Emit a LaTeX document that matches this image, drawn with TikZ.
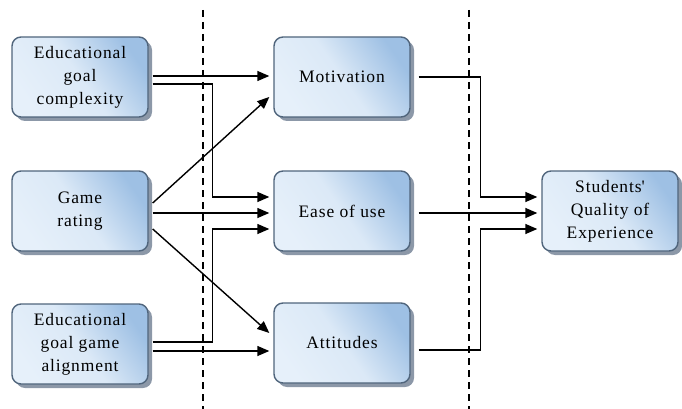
\documentclass[tikz,border=0pt]{standalone}
\usepackage{fontspec}
\setmainfont{Liberation Serif}
\newfontfamily\boxfont{Liberation Serif}[LetterSpace=5]
\usetikzlibrary{arrows.meta,calc,shadows}
\definecolor{boxedge}{HTML}{50657C}
\definecolor{boxlight}{HTML}{E6F0FA}
\definecolor{boxdark}{HTML}{9EC0E4}
\definecolor{shadowgray}{HTML}{8C98A8}
\tikzset{
  box/.style={rectangle, rounded corners=9pt, draw=boxedge, line width=1.4pt,
    minimum width=136pt, minimum height=80pt, align=center,
    left color=boxlight, right color=boxdark, middle color=boxlight!85!boxdark, shading angle=125,
    font=\boxfont\fontsize{17.5}{23}\selectfont,
    drop shadow={shadow xshift=4pt, shadow yshift=-4pt, fill=shadowgray, opacity=1}},
  conn/.style={line width=1.4pt, -{Triangle[length=12pt,width=10pt]}},
  sep/.style={line width=1.4pt, dash pattern=on 7pt off 5pt}
}
\begin{document}
\begin{tikzpicture}[x=1pt,y=-1pt]
\useasboundingbox (0,0) rectangle (682,409);
\draw[sep] (203,10) -- (203,409);
\draw[sep] (469,10) -- (469,409);
\node[box] (L1) at (80,77) {Educational\\goal\\complexity};
\node[box] (L2) at (80,211) {Game\\rating};
\node[box] (L3) at (80,344) {Educational\\goal game\\alignment};
\node[box] (M1) at (342,77) {Motivation};
\node[box] (M2) at (342,211) {Ease of use};
\node[box] (M3) at (342,343) {Attitudes};
\node[box] (R) at (610,211) {Students\textquotesingle\\Quality of\\Experience};
% left to middle
\draw[conn] ($(L1.east)+(4,-1)$) -- ($(M1.west)+(-4,-1)$);
\draw[conn] ($(L1.east)+(4,7)$) -- ++(60,0) |- ($(M2.west)+(-4,-14)$);
\draw[conn] ($(L2.east)+(4,-8)$) -- ($(M1.west)+(-4,20)$);
\draw[conn] ($(L2.east)+(4,2)$) -- ($(M2.west)+(-4,2)$);
\draw[conn] ($(L2.east)+(4,18)$) -- ($(M3.west)+(-4,-10)$);
\draw[conn] ($(L3.east)+(4,-2)$) -- ++(60,0) |- ($(M2.west)+(-4,18)$);
\draw[conn] ($(L3.east)+(4,7)$) -- ($(M3.west)+(-4,8)$);
% middle to right
\draw[conn] ($(M1.east)+(8,0)$) -- ++(62,0) |- ($(R.west)+(-4,-14)$);
\draw[conn] ($(M2.east)+(8,2)$) -- ($(R.west)+(-4,2)$);
\draw[conn] ($(M3.east)+(8,7)$) -- ++(62,0) |- ($(R.west)+(-4,18)$);
\end{tikzpicture}
\end{document}
